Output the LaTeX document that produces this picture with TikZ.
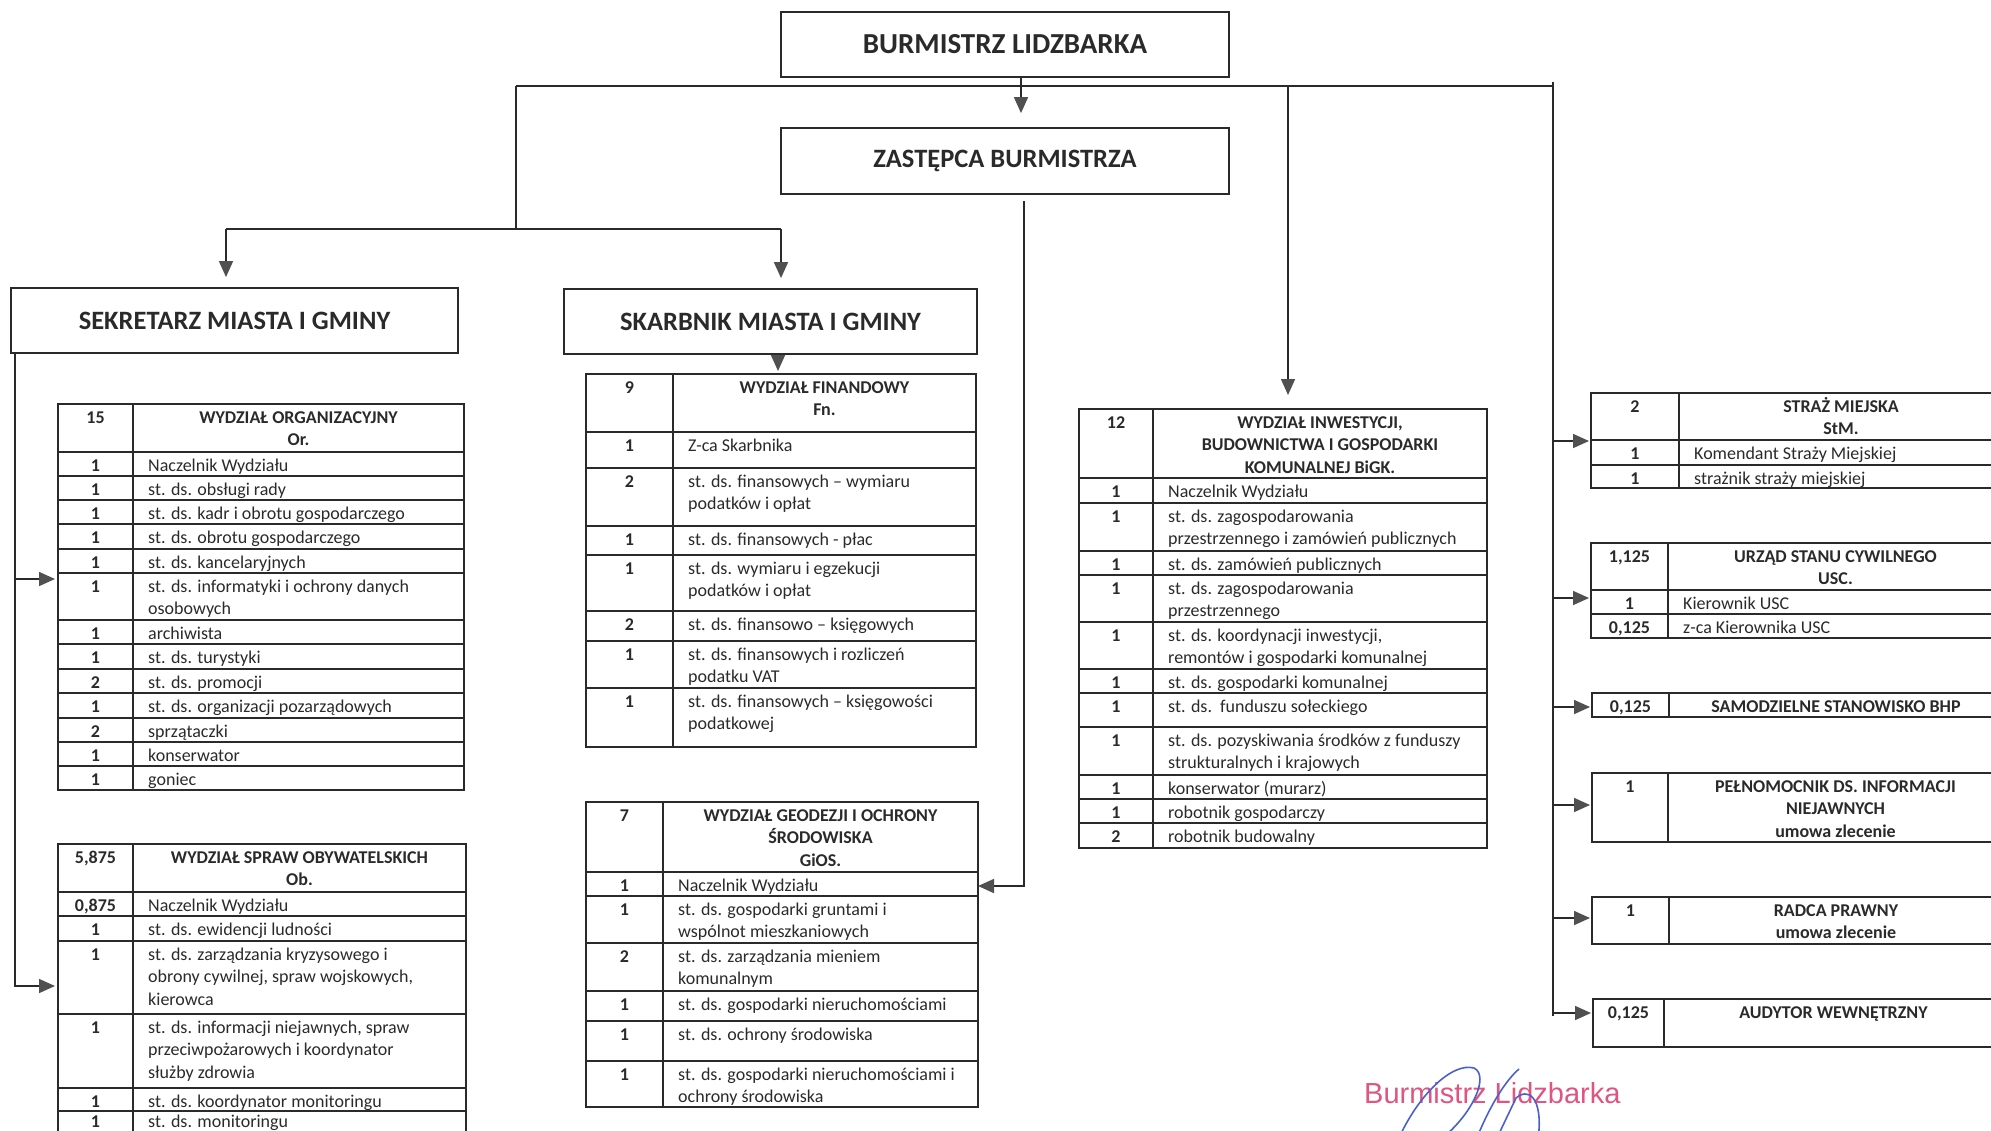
\documentclass[tikz,border=0pt]{standalone}
\usepackage{fontspec}
\setmainfont{Carlito}
\newfontfamily\stampfont{Liberation Sans}
\usetikzlibrary{arrows.meta}

\definecolor{ink}{HTML}{2A2A2A}
\definecolor{tipgray}{HTML}{505050}
\definecolor{stamp}{HTML}{E0557F}
\definecolor{pen}{HTML}{4A62C8}

\newcommand{\cellfont}{\fontsize{18}{22.5}\selectfont}
\newcommand{\numfont}{\fontsize{18}{22.5}\selectfont\bfseries}
\newcommand{\lns}[1]{\begin{tabular}[t]{@{}l@{}}#1\end{tabular}}
\newcommand{\clns}[1]{\begin{tabular}[t]{@{}c@{}}#1\end{tabular}}

% one row of a table: name, left, divider, right, top, bottom, number, text
\newcommand{\tabrow}[8]{%
  \draw[cell] (#2,#5) rectangle (#4,#6) (#3,#5) -- (#3,#6);
  \node[num] (#1n) at ({(#2+#3)/2},{#5+19}) {#7};
  \node[desc] (#1) at ({#3+15},{#5+19}) {\lns{#8}};
}
% header row of a table, same arguments
\newcommand{\tabhead}[8]{%
  \draw[cell] (#2,#5) rectangle (#4,#6) (#3,#5) -- (#3,#6);
  \node[num] (#1n) at ({(#2+#3)/2},{#5+19}) {#7};
  \node[deschd] (#1) at ({(#3+#4)/2},{#5+19}) {\clns{#8}};
}

\tikzset{
  cell/.style={draw=ink, line width=1.5pt},
  link/.style={draw=ink, line width=1.6pt},
  bus/.style={draw=ink, line width=2.6pt},
  arr/.style={link, -{Triangle[length=16pt, width=14pt, color=tipgray]}},
  headbox/.style={draw=ink, line width=1.8pt, font=\fontsize{26.5}{30}\selectfont\bfseries, text=ink, inner sep=0pt},
  num/.style={anchor=base, inner sep=0pt, font=\numfont, text=ink},
  desc/.style={anchor=base west, inner sep=0pt, font=\cellfont, text=ink},
  deschd/.style={anchor=base, inner sep=0pt, font=\numfont, text=ink},
}

\begin{document}
\begin{tikzpicture}[x=1pt, y=-1pt]

    \useasboundingbox (0,0) rectangle (1991,1130);
    \clip (0,0) rectangle (1991,1130);

    % top of the chart
    \node[headbox, minimum width=448, minimum height=65, font=\fontsize{29}{32}\selectfont\bfseries] (burm) at (1005,44.5) {BURMISTRZ LIDZBARKA};
    \node[headbox, minimum width=448, minimum height=66] (zast) at (1005,161) {ZASTĘPCA BURMISTRZA};
    \node[headbox, minimum width=447, minimum height=65] (sekr) at (234.5,320.5) {SEKRETARZ MIASTA I GMINY};
    \node[headbox, minimum width=413, minimum height=65] (skarb) at (770.5,321.5) {SKARBNIK MIASTA I GMINY};

    \coordinate (busL) at (516,86);
    \coordinate (busM) at (1021,86);
    \coordinate (spineR) at (1553,82);
    \coordinate (spineRend) at (1553,1016);
    \coordinate (splitL) at (226,229);
    \coordinate (splitR) at (781,229);
    \coordinate (spineL) at (15,353);
    \coordinate (zastOut) at (1024,201);

    \coordinate (orIn) at (58,579);
    \coordinate (obIn) at (58,986);
    \coordinate (fnIn) at (778,374);
    \coordinate (giosIn) at (978,886);
    \coordinate (bigkIn) at (1288,409);
    \coordinate (stmIn) at (1591,441);
    \coordinate (uscIn) at (1591,598);
    \coordinate (bhpIn) at (1592,707);
    \coordinate (pelIn) at (1592,805);
    \coordinate (radIn) at (1592,918);
    \coordinate (audIn) at (1593,1013);

    \draw[bus] (busL) -- (busL -| spineR);
    \draw[link] (burm.south -| busM) -- (busM);
    \draw[arr, shorten >=14pt] (busM) -- (zast.north -| busM);

    \draw[link] (busL) -- (busL |- splitL);
    \draw[link] (splitL) -- (splitR);
    \draw[arr, shorten >=10pt] (splitL) -- (sekr.north -| splitL);
    \draw[arr, shorten >=10pt] (splitR) -- (skarb.north -| splitR);
    \draw[arr, shorten >=3pt] (skarb.south -| fnIn) -- (fnIn);

    \draw[arr, shorten >=14pt] (busL -| bigkIn) -- (bigkIn);
    \draw[arr] (zastOut) |- (giosIn);

    \draw[link] (spineR) -- (spineRend);
    \foreach \c in {stmIn,uscIn,bhpIn,pelIn,radIn,audIn}
        \draw[arr, shorten >=2pt] (spineR |- \c) -- (\c);

    \draw[arr, shorten >=3pt] (spineL) |- (obIn);
    \draw[arr, shorten >=3pt] (spineL |- orIn) -- (orIn);

    % Or.
    \tabhead{orH}{58}{133}{464}{404}{452}{15}{WYDZIAŁ ORGANIZACYJNY\\Or.}
    \tabrow{or1}{58}{133}{464}{452}{476}{1}{Naczelnik Wydziału}
    \tabrow{or2}{58}{133}{464}{476}{500}{1}{st. ds. obsługi rady}
    \tabrow{or3}{58}{133}{464}{500}{524}{1}{st. ds. kadr i obrotu gospodarczego}
    \tabrow{or4}{58}{133}{464}{524}{549}{1}{st. ds. obrotu gospodarczego}
    \tabrow{or5}{58}{133}{464}{549}{573}{1}{st. ds. kancelaryjnych}
    \tabrow{or6}{58}{133}{464}{573}{620}{1}{st. ds. informatyki i ochrony danych\\osobowych}
    \tabrow{or7}{58}{133}{464}{620}{644}{1}{archiwista}
    \tabrow{or8}{58}{133}{464}{644}{669}{1}{st. ds. turystyki}
    \tabrow{or9}{58}{133}{464}{669}{693}{2}{st. ds. promocji}
    \tabrow{or10}{58}{133}{464}{693}{718}{1}{st. ds. organizacji pozarządowych}
    \tabrow{or11}{58}{133}{464}{718}{742}{2}{sprzątaczki}
    \tabrow{or12}{58}{133}{464}{742}{766}{1}{konserwator}
    \tabrow{or13}{58}{133}{464}{766}{790}{1}{goniec}

    % Ob.
    \tabhead{obH}{58}{133}{466}{844}{892}{5,875}{WYDZIAŁ SPRAW OBYWATELSKICH\\Ob.}
    \tabrow{ob1}{58}{133}{466}{892}{916}{0,875}{Naczelnik Wydziału}
    \tabrow{ob2}{58}{133}{466}{916}{941}{1}{st. ds. ewidencji ludności}
    \tabrow{ob3}{58}{133}{466}{941}{1014}{1}{st. ds. zarządzania kryzysowego i\\obrony cywilnej, spraw wojskowych,\\kierowca}
    \tabrow{ob4}{58}{133}{466}{1014}{1088}{1}{st. ds. informacji niejawnych, spraw\\przeciwpożarowych i koordynator\\służby zdrowia}
    \tabrow{ob5}{58}{133}{466}{1088}{1111}{1}{st. ds. koordynator monitoringu}
    % last row runs off the page
    \draw[cell] (58,1111) rectangle (466,1136) (133,1111) -- (133,1136);
    \node[num] (ob6n) at (95.5,1127) {1};
    \node[desc] (ob6) at (148,1127) {st. ds. monitoringu};

    % Fn.
    \tabhead{fnH}{586}{673}{976}{374}{432}{9}{WYDZIAŁ FINANDOWY\\Fn.}
    \tabrow{fn1}{586}{673}{976}{432}{468}{1}{Z-ca Skarbnika}
    \tabrow{fn2}{586}{673}{976}{468}{526}{2}{st. ds. finansowych – wymiaru\\podatków i opłat}
    \tabrow{fn3}{586}{673}{976}{526}{555}{1}{st. ds. finansowych - płac}
    \tabrow{fn4}{586}{673}{976}{555}{611}{1}{st. ds. wymiaru i egzekucji\\podatków i opłat}
    \tabrow{fn5}{586}{673}{976}{611}{641}{2}{st. ds. finansowo – księgowych}
    \tabrow{fn6}{586}{673}{976}{641}{688}{1}{st. ds. finansowych i rozliczeń\\podatku VAT}
    \tabrow{fn7}{586}{673}{976}{688}{747}{1}{st. ds. finansowych – księgowości\\podatkowej}

    % GiOS.
    \tabhead{gsH}{586}{663}{978}{802}{872}{7}{WYDZIAŁ GEODEZJI I OCHRONY\\ŚRODOWISKA\\GiOS.}
    \tabrow{gs1}{586}{663}{978}{872}{896}{1}{Naczelnik Wydziału}
    \tabrow{gs2}{586}{663}{978}{896}{943}{1}{st. ds. gospodarki gruntami i\\wspólnot mieszkaniowych}
    \tabrow{gs3}{586}{663}{978}{943}{991}{2}{st. ds. zarządzania mieniem\\komunalnym}
    \tabrow{gs4}{586}{663}{978}{991}{1021}{1}{st. ds. gospodarki nieruchomościami}
    \tabrow{gs5}{586}{663}{978}{1021}{1061}{1}{st. ds. ochrony środowiska}
    \tabrow{gs6}{586}{663}{978}{1061}{1107}{1}{st. ds. gospodarki nieruchomościami i\\ochrony środowiska}

    % BiGK.
    \tabhead{bgH}{1079}{1153}{1487}{409}{478}{12}{WYDZIAŁ INWESTYCJI,\\BUDOWNICTWA I GOSPODARKI\\KOMUNALNEJ BiGK.}
    \tabrow{bg1}{1079}{1153}{1487}{478}{503}{1}{Naczelnik Wydziału}
    \tabrow{bg2}{1079}{1153}{1487}{503}{551}{1}{st. ds. zagospodarowania\\przestrzennego i zamówień publicznych}
    \tabrow{bg3}{1079}{1153}{1487}{551}{575}{1}{st. ds. zamówień publicznych}
    \tabrow{bg4}{1079}{1153}{1487}{575}{622}{1}{st. ds. zagospodarowania\\przestrzennego}
    \tabrow{bg5}{1079}{1153}{1487}{622}{669}{1}{st. ds. koordynacji inwestycji,\\remontów i gospodarki komunalnej}
    \tabrow{bg6}{1079}{1153}{1487}{669}{693}{1}{st. ds. gospodarki komunalnej}
    \tabrow{bg7}{1079}{1153}{1487}{693}{727}{1}{st. ds.\ \ funduszu sołeckiego}
    \tabrow{bg8}{1079}{1153}{1487}{727}{775}{1}{st. ds. pozyskiwania środków z funduszy\\strukturalnych i krajowych}
    \tabrow{bg9}{1079}{1153}{1487}{775}{799}{1}{konserwator (murarz)}
    \tabrow{bg10}{1079}{1153}{1487}{799}{823}{1}{robotnik gospodarczy}
    \tabrow{bg11}{1079}{1153}{1487}{823}{848}{2}{robotnik budowalny}

    % right column
    \tabhead{stmH}{1591}{1679}{2003}{393}{440}{2}{STRAŻ MIEJSKA\\StM.}
    \tabrow{stm1}{1591}{1679}{2003}{440}{465}{1}{Komendant Straży Miejskiej}
    \tabrow{stm2}{1591}{1679}{2003}{465}{488}{1}{strażnik straży miejskiej}

    \tabhead{uscH}{1591}{1668}{2003}{543}{590}{1,125}{URZĄD STANU CYWILNEGO\\USC.}
    \tabrow{usc1}{1591}{1668}{2003}{590}{614}{1}{Kierownik USC}
    \tabrow{usc2}{1591}{1668}{2003}{614}{638}{0,125}{z-ca Kierownika USC}

    \tabhead{bhp}{1592}{1669}{2003}{693}{717}{0,125}{SAMODZIELNE STANOWISKO BHP}
    \tabhead{pel}{1592}{1668}{2003}{773}{842}{1}{PEŁNOMOCNIK DS. INFORMACJI\\NIEJAWNYCH\\umowa zlecenie}
    \tabhead{rad}{1592}{1669}{2003}{897}{944}{1}{RADCA PRAWNY\\umowa zlecenie}
    \tabhead{aud}{1593}{1664}{2003}{999}{1047}{0,125}{AUDYTOR WEWNĘTRZNY}

    % stamp and signature
    \node[anchor=base west, inner sep=0pt, text=stamp, font=\stampfont\fontsize{29}{32}\selectfont] (stampTxt) at (1364,1103) {Burmistrz Lidzbarka};
    \draw[draw=pen, line width=1.6pt] (1398,1140) .. controls (1418,1095) and (1452,1062) .. (1474,1068)
        .. controls (1490,1076) and (1472,1115) .. (1440,1140);
    \draw[draw=pen, line width=1.6pt] (1476,1140) .. controls (1490,1105) and (1506,1080) .. (1519,1069);
    \draw[draw=pen, line width=1.6pt] (1496,1140) -- (1516,1098) .. controls (1526,1088) and (1544,1094) .. (1538,1140);

\end{tikzpicture}
\end{document}
